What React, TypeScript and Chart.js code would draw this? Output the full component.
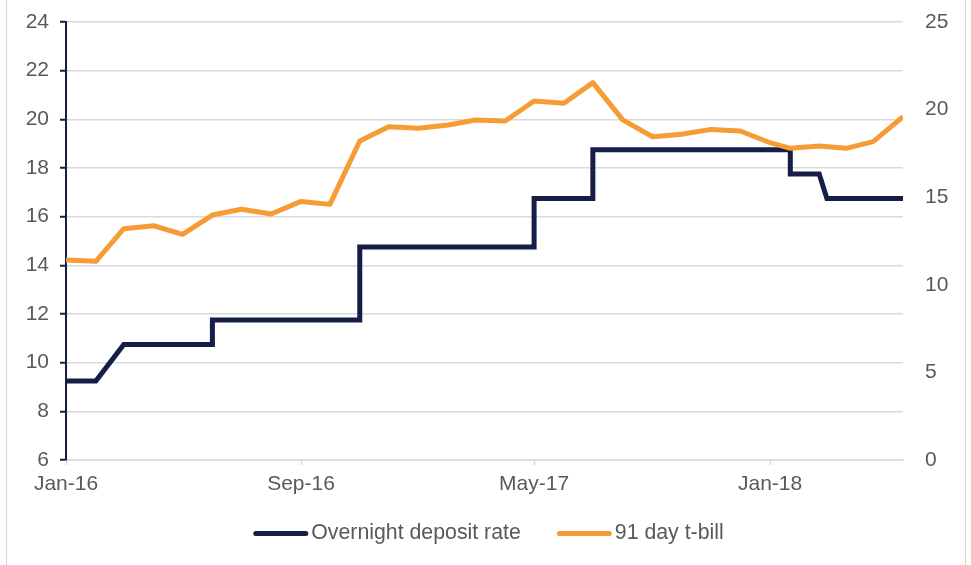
import React, { useEffect, useRef } from 'react';
import { Chart, registerables } from 'chart.js';

Chart.register(...registerables);

// ---- data ----
const depositLabel = 'Overnight deposit rate';
const tbillLabel = '91 day t-bill';

const depositDates = [
  '2016-01-01', '2016-02-01', '2016-03-01', '2016-06-01', '2016-06-01',
  '2016-11-01', '2016-11-01', '2017-05-01', '2017-05-01', '2017-07-01',
  '2017-07-01', '2018-01-22', '2018-01-22', '2018-02-21', '2018-03-01',
  '2018-05-19',
];
const depositRates = [
  9.25, 9.25, 10.75, 10.75, 11.75,
  11.75, 14.75, 14.75, 16.75, 16.75,
  18.75, 18.75, 17.75, 17.75, 16.75,
  16.75,
];

const tbillDates = [
  '2016-01-01', '2016-02-01', '2016-03-01', '2016-04-01', '2016-05-01', '2016-06-01',
  '2016-07-01', '2016-08-01', '2016-09-01', '2016-10-01', '2016-11-01', '2016-12-01',
  '2017-01-01', '2017-02-01', '2017-03-01', '2017-04-01', '2017-05-01', '2017-06-01',
  '2017-07-01', '2017-08-01', '2017-09-01', '2017-10-01', '2017-11-01', '2017-12-01',
  '2018-01-01', '2018-01-22', '2018-02-21', '2018-03-21', '2018-04-18', '2018-05-19',
];
const tbillRates = [
  11.42, 11.34, 13.2, 13.37, 12.88, 13.98,
  14.31, 14.04, 14.76, 14.59, 18.21, 19.02,
  18.93, 19.12, 19.41, 19.35, 20.49, 20.36,
  21.54, 19.41, 18.45, 18.59, 18.87, 18.78,
  18.11, 17.79, 17.92, 17.79, 18.17, 19.59,
];

const xTickDates = ['2016-01-01', '2016-09-01', '2017-05-01', '2018-01-01'];
const xTickLabels = ['Jan-16', 'Sep-16', 'May-17', 'Jan-18'];

const leftMin = 6;
const leftMax = 24;
const leftStep = 2;
const rightMin = 0;
const rightMax = 25;
const rightStep = 5;

// ---- style ----
const NAVY = '#141e46';
const ORANGE = '#f59c34';
const GRID = '#d9d9d9';
const TEXT = '#595959';
const FONT = '"Liberation Sans", Arial, sans-serif';
const TICK_SIZE = 21;
const LEGEND_SIZE = 21.3;

const toDay = (s: string) => {
  const [y, m, d] = s.split('-').map(Number);
  return (Date.UTC(y, m - 1, d) - Date.UTC(2016, 0, 1)) / 86400000;
};

// Legend drawn below the axis (line swatch + label, centred row)
const bottomLegend = {
  id: 'bottomLegend',
  afterDraw(chart: any) {
    const ctx = chart.ctx as CanvasRenderingContext2D;
    const sw = 55; // swatch length incl. caps
    const gapText = 3;
    const gapItem = 36;
    const y = 533.5;
    ctx.save();
    ctx.font = `${LEGEND_SIZE}px ${FONT}`;
    const items = chart.data.datasets.map((ds: any) => ({
      label: ds.label as string,
      color: ds.borderColor as string,
      w: ctx.measureText(ds.label).width,
    }));
    const total = items.reduce((a: number, it: any) => a + sw + gapText + it.w, 0) + gapItem * (items.length - 1);
    let x = chart.width / 2 + 3 - total / 2;
    items.forEach((it: any) => {
      ctx.strokeStyle = it.color;
      ctx.lineWidth = 5;
      ctx.lineCap = 'round';
      ctx.beginPath();
      ctx.moveTo(x + 2.5, y);
      ctx.lineTo(x + sw - 2.5, y);
      ctx.stroke();
      ctx.fillStyle = TEXT;
      ctx.textAlign = 'left';
      ctx.textBaseline = 'middle';
      ctx.fillText(it.label, x + sw + gapText, y);
      x += sw + gapText + it.w + gapItem;
    });
    ctx.restore();
  },
};

export default function App() {
  const ref = useRef<HTMLCanvasElement>(null);

  useEffect(() => {
    if (!ref.current) return;
    const xTickValues = xTickDates.map(toDay);
    const allDays = depositDates.concat(tbillDates).map(toDay);
    const xMin = Math.min(...allDays);
    const xMax = Math.max(...allDays);

    const chart = new Chart(ref.current, {
      type: 'line',
      data: {
        datasets: [
          {
            label: depositLabel,
            data: depositDates.map((d, i) => ({ x: toDay(d), y: depositRates[i] })),
            borderColor: NAVY,
            backgroundColor: NAVY,
            borderWidth: 5,
            pointRadius: 0,
            pointHoverRadius: 0,
            borderJoinStyle: 'miter',
            borderCapStyle: 'butt',
            yAxisID: 'y',
            order: 1,
          },
          {
            label: tbillLabel,
            data: tbillDates.map((d, i) => ({ x: toDay(d), y: tbillRates[i] })),
            borderColor: ORANGE,
            backgroundColor: ORANGE,
            borderWidth: 5,
            pointRadius: 0,
            pointHoverRadius: 0,
            borderJoinStyle: 'round',
            borderCapStyle: 'butt',
            yAxisID: 'y1',
            order: 0,
          },
        ],
      },
      options: {
        animation: false,
        responsive: false,
        events: [],
        layout: { padding: { left: 5, right: 0, top: 22, bottom: 65 } },
        plugins: {
          tooltip: { enabled: false },
          legend: { display: false },
        },
        scales: {
          x: {
            type: 'linear',
            min: xMin,
            max: xMax,
            afterBuildTicks: (s: any) => {
              s.ticks = xTickValues.map((v) => ({ value: v }));
            },
            afterFit: (s: any) => {
              s.height = 40;
              s.paddingLeft = 0;
              s.paddingRight = 0;
            },
            grid: {
              drawOnChartArea: false,
              drawTicks: true,
              tickLength: 5,
              tickColor: GRID,
              tickWidth: 1.5,
            },
            border: { color: GRID, width: 1.5 },
            ticks: {
              autoSkip: false,
              maxRotation: 0,
              minRotation: 0,
              padding: 7,
              color: TEXT,
              font: { family: FONT, size: TICK_SIZE },
              callback: (_v: any, i: number) => xTickLabels[i],
            },
          },
          y: {
            type: 'linear',
            position: 'left',
            min: leftMin,
            max: leftMax,
            afterFit: (s: any) => {
              s.width = 61;
              s.paddingTop = 0;
              s.paddingBottom = 0;
            },
            grid: {
              color: GRID,
              lineWidth: 1.5,
              tickColor: NAVY,
              tickLength: 6,
              tickWidth: 2,
            },
            border: { color: NAVY, width: 2 },
            ticks: {
              stepSize: leftStep,
              padding: 11,
              color: TEXT,
              font: { family: FONT, size: TICK_SIZE },
            },
          },
          y1: {
            type: 'linear',
            position: 'right',
            min: rightMin,
            max: rightMax,
            afterFit: (s: any) => {
              s.width = 68;
              s.paddingTop = 0;
              s.paddingBottom = 0;
            },
            grid: { display: false, drawTicks: false, drawOnChartArea: false },
            border: { display: false },
            ticks: {
              stepSize: rightStep,
              padding: 22,
              color: TEXT,
              font: { family: FONT, size: TICK_SIZE },
            },
          },
        },
      } as any,
      plugins: [bottomLegend],
    });
    return () => chart.destroy();
  }, []);

  return (
    <div style={{ position: 'absolute', left: 0, top: 0, width: 971, height: 565, background: '#fff', overflow: 'hidden' }}>
      <div
        style={{
          position: 'absolute',
          left: 6,
          top: -3,
          width: 958,
          height: 570,
          border: '1px solid #d6d6d6',
        }}
      />
      <canvas ref={ref} width={971} height={565} style={{ position: 'absolute', left: 0, top: 0, display: 'block' }} />
    </div>
  );
}
